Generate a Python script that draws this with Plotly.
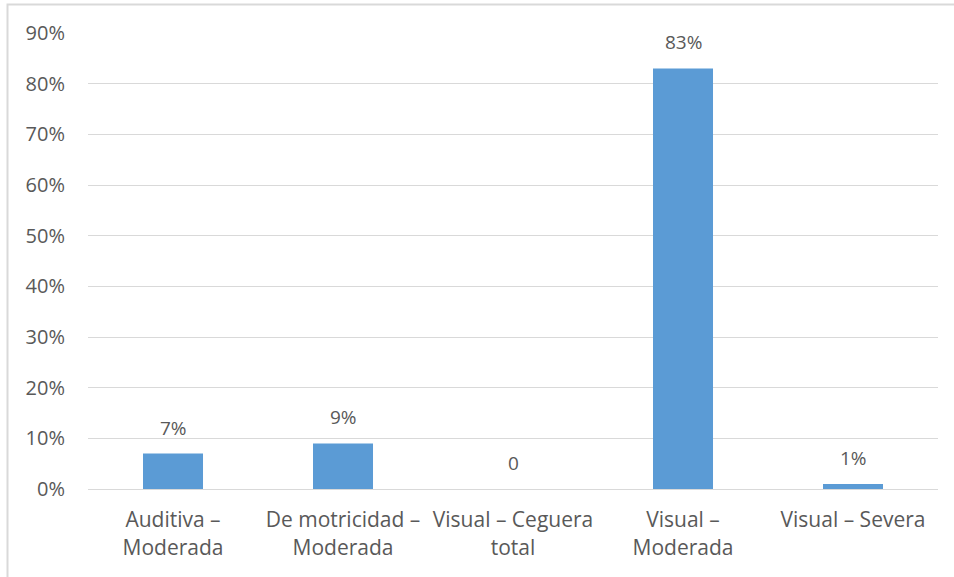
import plotly.graph_objects as go

categories = [
    "Auditiva –<br>Moderada",
    "De motricidad –<br>Moderada",
    "Visual – Ceguera<br>total",
    "Visual –<br>Moderada",
    "Visual – Severa",
]
values = [0.07, 0.09, 0.0, 0.83, 0.01]
value_labels = ["7%", "9%", "0", "83%", "1%"]
y_ticks = [i / 10 for i in range(10)]
y_tick_labels = [f"{i * 10}%" for i in range(10)]

W, H = 954, 577
L, R, T, B = 88, 16, 33, 88
FONT = "Open Sans, Lato, sans-serif"
TEXT = "#595959"
GRID = "#d9d9d9"

fig = go.Figure(
    go.Bar(
        x=categories,
        y=values,
        marker=dict(color="#5b9bd5", line=dict(width=0)),
        width=0.353,
        hoverinfo="skip",
    )
)

for cat, v, lab in zip(categories, values, value_labels):
    fig.add_annotation(
        x=cat, y=v, text=lab, showarrow=False,
        yanchor="middle", yshift=26,
        font=dict(family=FONT, size=19, color=TEXT),
    )

# light outer frame of the chart area
pw, ph = W - L - R, H - T - B
fig.add_shape(
    type="rect", xref="paper", yref="paper",
    x0=(7.5 - L) / pw, x1=(W + 5 - L) / pw,
    y0=-(H + 5 - T - ph) / ph, y1=1 + (T - 4.5) / ph,
    line=dict(color="#d9d9d9", width=2), layer="below",
)

fig.update_layout(
    width=W, height=H,
    margin=dict(l=L, r=R, t=T, b=B, autoexpand=False),
    paper_bgcolor="white", plot_bgcolor="white",
    showlegend=False,
    bargap=0.647,
    font=dict(family=FONT, size=19, color=TEXT),
)
fig.update_xaxes(
    showgrid=False, showline=True, linecolor=GRID, linewidth=1,
    ticks="", ticklabelstandoff=12,
    tickfont=dict(size=21, color=TEXT), fixedrange=True,
)
fig.update_yaxes(
    range=[0, 0.9], tickvals=y_ticks, ticktext=y_tick_labels,
    showgrid=True, gridcolor=GRID, gridwidth=1,
    zeroline=False, showline=False, ticks="",
    ticklabelstandoff=22,
    tickfont=dict(size=20, color=TEXT), fixedrange=True,
)

fig.write_html("out.html")
